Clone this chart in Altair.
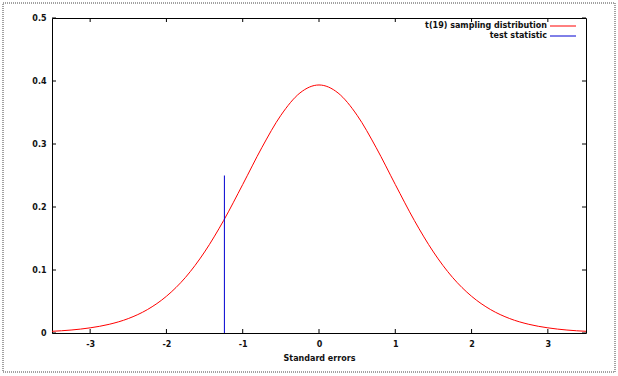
import altair as alt
import pandas as pd

# Data
x_vals = [-3.5, -3.25, -3.0, -2.75, -2.5, -2.25, -2.0, -1.75, -1.5, -1.25, -1.0, -0.75, -0.5, -0.25,
          0.0, 0.25, 0.5, 0.75, 1.0, 1.25, 1.5, 1.75, 2.0, 2.25, 2.5, 2.75, 3.0, 3.25, 3.5]
density = [0.0027, 0.0047, 0.0082, 0.0138, 0.0229, 0.0371, 0.0583, 0.0883, 0.1286, 0.1786, 0.2357,
           0.2941, 0.3455, 0.3810, 0.3937, 0.3810, 0.3455, 0.2941, 0.2357, 0.1786, 0.1286, 0.0883,
           0.0583, 0.0371, 0.0229, 0.0138, 0.0082, 0.0047, 0.0027]
test_stat_x = [-1.24]
test_stat_top = [0.25]
series_names = ["t(19) sampling distribution", "test statistic"]
series_colors = ["#ff0000", "#0000d0"]
x_ticks = [-3, -2, -1, 0, 1, 2, 3]
y_ticks = [0, 0.1, 0.2, 0.3, 0.4, 0.5]

W, H = 534, 315
FONT = "DejaVu Sans"

xs = alt.Scale(domain=[-3.5, 3.5], nice=False, zero=False)
ys = alt.Scale(domain=[0, 0.5], nice=False)

curve_df = pd.DataFrame({"x": x_vals, "y": density})
stat_df = pd.DataFrame({"x": test_stat_x, "y0": [0.0], "y1": test_stat_top})
xt_df = pd.DataFrame({"x": x_ticks})
yt_df = pd.DataFrame({"y": y_ticks})

x_axis = alt.Axis(values=x_ticks, ticks=False, domain=False, grid=False,
                  labelExpr="'' + datum.value", labelFont=FONT, labelFontSize=8,
                  labelFontWeight="bold", labelPadding=7, labelColor="#111",
                  title="Standard errors", titleFont=FONT, titleFontSize=8,
                  titleFontWeight="bold", titlePadding=6, titleColor="#111")
y_axis = alt.Axis(values=y_ticks, ticks=False, domain=False, grid=False,
                  labelExpr="'' + datum.value", labelFont=FONT, labelFontSize=8,
                  labelFontWeight="bold", labelPadding=6, labelColor="#111", title=None)

curve = alt.Chart(curve_df).mark_line(color=series_colors[0], strokeWidth=1, interpolate="monotone").encode(
    x=alt.X("x:Q", scale=xs, axis=x_axis),
    y=alt.Y("y:Q", scale=ys, axis=y_axis),
)

stat = alt.Chart(stat_df).mark_rule(color=series_colors[1], strokeWidth=1).encode(
    x=alt.X("x:Q", scale=xs),
    y=alt.Y("y0:Q", scale=ys),
    y2="y1:Q",
)

tick_bottom = alt.Chart(xt_df).mark_rule(color="black").encode(
    x=alt.X("x:Q", scale=xs), y=alt.value(H), y2=alt.value(H - 4))
tick_top = alt.Chart(xt_df).mark_rule(color="black").encode(
    x=alt.X("x:Q", scale=xs), y=alt.value(0), y2=alt.value(4))
tick_left = alt.Chart(yt_df).mark_rule(color="black").encode(
    y=alt.Y("y:Q", scale=ys), x=alt.value(0), x2=alt.value(4))
tick_right = alt.Chart(yt_df).mark_rule(color="black").encode(
    y=alt.Y("y:Q", scale=ys), x=alt.value(W), x2=alt.value(W - 4))

legend_layers = []
for i, (name, col) in enumerate(zip(series_names, series_colors)):
    row_df = pd.DataFrame({"name": [name]})
    ypix = 8 + 10 * i
    legend_layers.append(
        alt.Chart(row_df).mark_text(align="right", baseline="middle", font=FONT, fontSize=8,
                                    fontWeight="bold", color="#111").encode(
            x=alt.value(495), y=alt.value(ypix), text="name:N"))
    legend_layers.append(
        alt.Chart(row_df).mark_rule(color=col, strokeWidth=1).encode(
            x=alt.value(498), x2=alt.value(524), y=alt.value(ypix)))

border = alt.Chart(pd.DataFrame({"a": [0]})).mark_rect(
    fill=None, stroke="#444", strokeWidth=1, strokeDash=[1, 1]).encode(
    x=alt.value(-49), x2=alt.value(563), y=alt.value(-15), y2=alt.value(354))

chart = alt.layer(border, curve, stat, tick_bottom, tick_top, tick_left, tick_right,
                  *legend_layers).properties(
    width=W, height=H,
    autosize=alt.AutoSizeParams(type="none"),
    padding={"left": 52, "top": 18, "right": 32, "bottom": 43},
    background="white",
).configure_view(stroke="black", strokeWidth=1)

chart.save("out.html", embed_options={"renderer": "svg", "actions": False})
